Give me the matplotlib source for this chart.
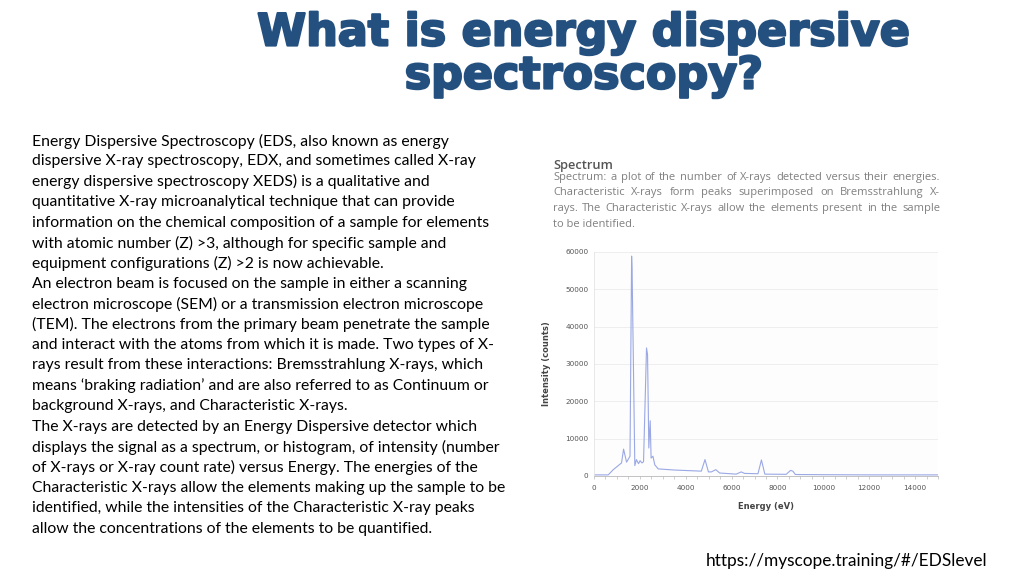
import numpy as np
import matplotlib
matplotlib.use('Agg')
from matplotlib import pyplot as plt
import matplotlib.patheffects as pe

# spectrum (energy in eV, counts)
energy = [0, 300, 620, 840, 1200, 1290, 1420, 1570, 1640, 1660, 1780, 1850,
          1940, 2010, 2090, 2160, 2290, 2335, 2390, 2450, 2490, 2570, 2650,
          2800, 3500, 4680, 4840, 4990, 5120, 5310, 5480, 6200, 6420, 6560,
          7150, 7300, 7450, 8380, 8570, 8670, 8780, 10000, 12000, 15000]
counts = [300, 300, 300, 1700, 3500, 7200, 3700, 5300, 58900, 55500, 2800,
          4400, 3300, 4100, 3500, 3800, 34300, 32500, 7500, 14800, 4800,
          5300, 3000, 1900, 1600, 1300, 4400, 1100, 1100, 1700, 800, 500,
          1100, 700, 600, 4300, 500, 450, 1500, 1300, 400, 350, 300, 300]

x_ticks = [0, 2000, 4000, 6000, 8000, 10000, 12000, 14000]
y_ticks = [0, 10000, 20000, 30000, 40000, 50000, 60000]

title_lines = ["What is energy dispersive", "spectroscopy?"]

body_lines = [
    "Energy Dispersive Spectroscopy (EDS, also known as energy",
    "dispersive X-ray spectroscopy, EDX, and sometimes called X-ray",
    "energy dispersive spectroscopy XEDS) is a qualitative and",
    "quantitative X-ray microanalytical technique that can provide",
    "information on the chemical composition of a sample for elements",
    "with atomic number (Z) >3, although for specific sample and",
    "equipment configurations (Z) >2 is now achievable.",
    "An electron beam is focused on the sample in either a scanning",
    "electron microscope (SEM) or a transmission electron microscope",
    "(TEM). The electrons from the primary beam penetrate the sample",
    "and interact with the atoms from which it is made. Two types of X-",
    "rays result from these interactions: Bremsstrahlung X-rays, which",
    "means \u2018braking radiation\u2019 and are also referred to as Continuum or",
    "background X-rays, and Characteristic X-rays.",
    "The X-rays are detected by an Energy Dispersive detector which",
    "displays the signal as a spectrum, or histogram, of intensity (number",
    "of X-rays or X-ray count rate) versus Energy. The energies of the",
    "Characteristic X-rays allow the elements making up the sample to be",
    "identified, while the intensities of the Characteristic X-ray peaks",
    "allow the concentrations of the elements to be quantified.",
]

caption_lines = [
    "Spectrum: a plot of the number of X-rays detected versus their energies.",
    "Characteristic X-rays form peaks superimposed on Bremsstrahlung X-",
    "rays. The Characteristic X-rays allow the elements present in the sample",
    "to be identified.",
]

W, H = 1024, 576
fig = plt.figure(figsize=(W / 100, H / 100), dpi=100)
fig.patch.set_facecolor('white')


def px(x, y):
    return x / W, 1 - y / H


# title
for i, line in enumerate(title_lines):
    fig.text(*px(584, 33 + i * 43), line, ha='center', va='center',
             fontsize=32, fontweight='bold', family='DejaVu Sans',
             color='#24507f',
             path_effects=[pe.withStroke(linewidth=1.6, foreground='#24507f')])

# body text
for i, line in enumerate(body_lines):
    fig.text(*px(32, 141 + i * 20.4), line, ha='left', va='center',
             fontsize=11.3, family='Lato', color='black')

fig.text(*px(987, 561), "https://myscope.training/#/EDSlevel", ha='right',
         va='center', fontsize=12.4, family='Lato', color='black')

# caption above the chart, justified like the screenshot
fig.text(*px(553, 166), "Spectrum", ha='left', va='center', fontsize=9.3,
         family='Open Sans', fontweight='semibold', color='#555555')

renderer = fig.canvas.get_renderer()
cap_left, cap_right = 553, 940
for i, line in enumerate(caption_lines):
    y = 177 + i * 15.7
    if i == len(caption_lines) - 1:
        fig.text(*px(cap_left, y), line, ha='left', va='center', fontsize=8.0,
                 family='Open Sans', color='#808080')
        continue
    words = line.split(' ')
    arts = [fig.text(0, 0, w, ha='left', va='center', fontsize=8.0,
                     family='Open Sans', color='#808080') for w in words]
    widths = [a.get_window_extent(renderer).width for a in arts]
    gap = (cap_right - cap_left - sum(widths)) / max(len(words) - 1, 1)
    xpos = cap_left
    for a, w in zip(arts, widths):
        a.set_position(px(xpos, y))
        xpos += w + gap

# spectrum chart
ax = fig.add_axes([594 / W, 1 - 476 / H, (938 - 594) / W, (476 - 252) / H])
ax.plot(energy, counts, color='#9aa8e4', lw=0.8)
ax.set_xlim(0, 15000)
ax.set_ylim(0, 60000)
ax.set_xticks(x_ticks)
ax.set_xticks(np.arange(0, 15001, 500), minor=True)
ax.set_yticks(y_ticks)
ax.tick_params(axis='both', labelsize=5.2, labelcolor='#555555', length=0,
               pad=4)
ax.tick_params(axis='x', which='both', length=2.5, color='#bbbbbb', width=0.5)
ax.grid(axis='y', color='#ececec', lw=0.6)
ax.set_axisbelow(True)
for side in ['top', 'right']:
    ax.spines[side].set_visible(False)
ax.spines['left'].set_color('#e4e4e4')
ax.spines['bottom'].set_color('#b8b8b8')
ax.spines['left'].set_linewidth(0.6)
ax.spines['bottom'].set_linewidth(0.6)
ax.set_facecolor('#fdfdfe')
ax.set_xlabel("Energy (eV)", fontsize=6, fontweight='bold', color='#444444',
              labelpad=8)
ax.set_ylabel("Intensity (counts)", fontsize=6, fontweight='bold',
              color='#444444', labelpad=10)

fig.savefig('out.png', dpi=100)
